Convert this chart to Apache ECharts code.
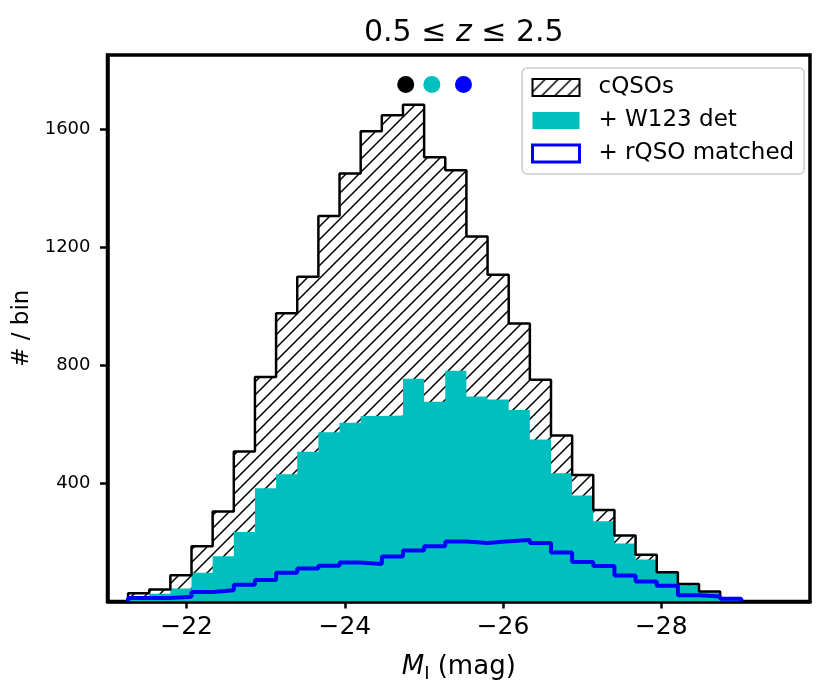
<!DOCTYPE html>
<html>
<head>
<meta charset="utf-8">
<script src="https://cdn.jsdelivr.net/npm/echarts@6/dist/echarts.min.js"></script>
<style>
  html, body { margin: 0; padding: 0; background: #fff; }
  #chart { width: 830px; height: 692px; }
</style>
</head>
<body>
<div id="chart"></div>
<script>
// histogram bins (absolute magnitude, bright end to the right)
const binStart = -21.26;
const binWidth = 0.2673;
const cqsoCounts = [28, 41, 89, 187, 305, 508, 760, 976, 1099, 1305, 1449, 1592, 1646, 1682, 1504,
  1460, 1236, 1106, 941, 751, 562, 428, 310, 223, 158, 99, 59, 34, 10];
const w123Counts = [16, 26, 44, 97, 153, 235, 383, 431, 507, 573, 605, 628, 630, 754, 676,
  781, 694, 684, 648, 548, 434, 359, 272, 196, 142, 97, 55, 32, 8];
const rqsoCounts = [12, 12, 16, 32, 38, 57, 73, 97, 112, 121, 132, 127, 152, 173, 187,
  203, 198, 204, 208, 198, 166, 134, 120, 88, 68, 53, 21, 17, 9];
// mean magnitudes shown as dots above the peak
const meanMags = [-24.77, -25.10, -25.50];
const meanLevel = 1750;
const xTicks = [-22, -24, -26, -28];
const yTicks = [400, 800, 1200, 1600];

const FONT = "DejaVu Sans";
const CYAN = "#00bfbf";
const BLUE = "#0000ff";

function stepPoints(counts) {
  // outline of a step histogram: start and end on the baseline
  const pts = [[binStart, 0]];
  counts.forEach((c, i) => pts.push([binStart - i * binWidth, c]));
  const end = binStart - counts.length * binWidth;
  pts.push([end, counts[counts.length - 1]]);
  pts.push([end, 0]);
  return pts;
}

function makeHatch() {
  const s = 13;
  const c = document.createElement("canvas");
  c.width = s;
  c.height = s;
  const g = c.getContext("2d");
  g.strokeStyle = "#000";
  g.lineWidth = 1.5;
  g.beginPath();
  g.moveTo(-2, s + 2); g.lineTo(s + 2, -2);
  g.moveTo(-2, 2); g.lineTo(2, -2);
  g.moveTo(s - 2, s + 2); g.lineTo(s + 2, s - 2);
  g.stroke();
  return c;
}
const hatch = { image: makeHatch(), repeat: "repeat" };

const minus = (v) => String(v).replace("-", "\u2212");

const chart = echarts.init(document.getElementById("chart"), null, { renderer: "canvas" });
chart.setOption({
  animation: false,
  backgroundColor: "#fff",
  title: {
    text: "0.5 \u2264 {i|z} \u2264 2.5",
    left: 359,
    top: 13,
    textStyle: {
      fontFamily: FONT, fontSize: 30, fontWeight: "normal", color: "#000",
      rich: { i: { fontFamily: FONT, fontSize: 30, fontStyle: "italic", color: "#000" } },
    },
  },
  grid: {
    left: 107.5, right: 20, top: 55, bottom: 90.5,
    show: true, borderColor: "#000", borderWidth: 3.5, backgroundColor: "transparent",
  },
  legend: {
    orient: "vertical",
    left: 522, top: 68,
    padding: [8, 10, 9, 9],
    itemGap: 10,
    itemWidth: 47, itemHeight: 17,
    backgroundColor: "rgba(255,255,255,0.85)",
    borderColor: "#cccccc", borderWidth: 1.5, borderRadius: 5,
    textStyle: { fontFamily: FONT, fontSize: 23, color: "#000", padding: [0, 0, 0, 14] },
    data: [
      { name: "cQSOs", icon: "rect", itemStyle: { color: hatch, borderColor: "#000", borderWidth: 2 } },
      { name: "+ W123 det", icon: "rect", itemStyle: { color: CYAN, borderWidth: 0 } },
      { name: "+ rQSO matched", icon: "rect", itemStyle: { color: "#fff", borderColor: BLUE, borderWidth: 3 } },
    ],
  },
  xAxis: {
    type: "value",
    inverse: true,
    min: -29.88, max: -21.0,
    name: "{i|M}{s|I} (mag)",
    nameLocation: "middle",
    nameGap: 50,
    nameTextStyle: {
      fontFamily: FONT, fontSize: 26, color: "#000",
      rich: {
        i: { fontFamily: FONT, fontSize: 26, fontStyle: "italic", color: "#000", lineHeight: 32 },
        s: { fontFamily: FONT, fontSize: 18, color: "#000", lineHeight: 15, verticalAlign: "bottom" },
      },
    },
    axisLine: { onZero: false, lineStyle: { color: "#000", width: 3.5 } },
    axisTick: { customValues: xTicks, length: 7, lineStyle: { color: "#000", width: 2.5 } },
    axisLabel: { customValues: xTicks, formatter: minus, fontFamily: FONT, fontSize: 25, color: "#000", margin: 13 },
    splitLine: { show: false },
  },
  yAxis: {
    type: "value",
    min: 0, max: 1850,
    name: "# / bin",
    nameLocation: "middle",
    nameRotate: 90,
    nameGap: 71,
    nameTextStyle: { fontFamily: FONT, fontSize: 23, color: "#000" },
    axisLine: { show: true, onZero: false, lineStyle: { color: "#000", width: 3.5 } },
    axisTick: { show: true, customValues: yTicks, length: 7.5, lineStyle: { color: "#000", width: 2.5 } },
    axisLabel: {
      customValues: yTicks, formatter: (v) => String(v),
      fontFamily: FONT, fontSize: 18, color: "#000", margin: 17,
    },
    splitLine: { show: false },
  },
  series: [
    {
      name: "cQSOs",
      type: "line",
      step: "end",
      symbol: "none",
      data: stepPoints(cqsoCounts),
      lineStyle: { color: "#000", width: 2.5 },
      itemStyle: { color: "#000" },
      areaStyle: { color: hatch, opacity: 1 },
    },
    {
      name: "+ W123 det",
      type: "line",
      step: "end",
      symbol: "none",
      data: stepPoints(w123Counts),
      lineStyle: { width: 0 },
      itemStyle: { color: CYAN },
      areaStyle: { color: CYAN, opacity: 1 },
    },
    {
      name: "+ rQSO matched",
      type: "line",
      step: "end",
      symbol: "none",
      data: stepPoints(rqsoCounts),
      lineStyle: { color: BLUE, width: 4 },
      itemStyle: { color: BLUE },
    },
    {
      name: "means",
      type: "scatter",
      symbolSize: 17,
      data: meanMags.map((m, i) => ({
        value: [m, meanLevel],
        itemStyle: { color: ["#000", CYAN, BLUE][i], opacity: 1 },
      })),
    },
  ],
});
</script>
</body>
</html>
